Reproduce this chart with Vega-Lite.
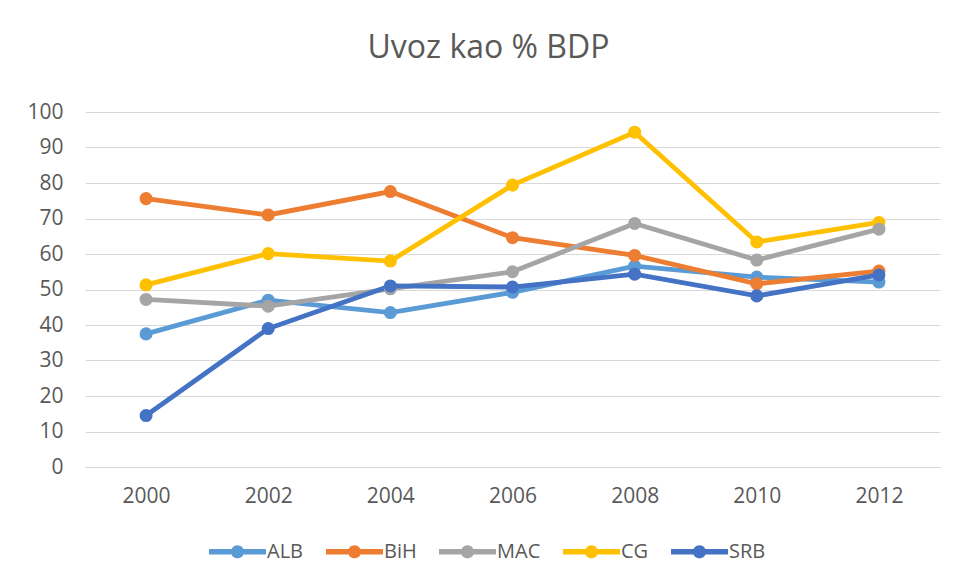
{
  "$schema": "https://vega.github.io/schema/vega-lite/v6.json",
  "autosize": "none",
  "width": 855,
  "height": 355,
  "padding": {"left": 85, "top": 112, "right": 16, "bottom": 117},
  "background": "white",
  "title": {"text": "Uvoz kao % BDP", "fontSize": 32, "font": "Open Sans", "fontWeight": "normal", "color": "#595959", "anchor": "middle", "dx": -24, "offset": 36},
  "data": {"values": [
    {"year": "2000", "country": "ALB", "value": 37.5},
    {"year": "2002", "country": "ALB", "value": 47.0},
    {"year": "2004", "country": "ALB", "value": 43.5},
    {"year": "2006", "country": "ALB", "value": 49.2},
    {"year": "2008", "country": "ALB", "value": 56.6},
    {"year": "2010", "country": "ALB", "value": 53.5},
    {"year": "2012", "country": "ALB", "value": 52.1},
    {"year": "2000", "country": "BiH", "value": 75.6},
    {"year": "2002", "country": "BiH", "value": 71.0},
    {"year": "2004", "country": "BiH", "value": 77.6},
    {"year": "2006", "country": "BiH", "value": 64.6},
    {"year": "2008", "country": "BiH", "value": 59.6},
    {"year": "2010", "country": "BiH", "value": 51.6},
    {"year": "2012", "country": "BiH", "value": 55.2},
    {"year": "2000", "country": "MAC", "value": 47.2},
    {"year": "2002", "country": "MAC", "value": 45.3},
    {"year": "2004", "country": "MAC", "value": 50.2},
    {"year": "2006", "country": "MAC", "value": 55.0},
    {"year": "2008", "country": "MAC", "value": 68.6},
    {"year": "2010", "country": "MAC", "value": 58.3},
    {"year": "2012", "country": "MAC", "value": 67.0},
    {"year": "2000", "country": "CG", "value": 51.3},
    {"year": "2002", "country": "CG", "value": 60.1},
    {"year": "2004", "country": "CG", "value": 58.0},
    {"year": "2006", "country": "CG", "value": 79.4},
    {"year": "2008", "country": "CG", "value": 94.3},
    {"year": "2010", "country": "CG", "value": 63.4},
    {"year": "2012", "country": "CG", "value": 68.9},
    {"year": "2000", "country": "SRB", "value": 14.5},
    {"year": "2002", "country": "SRB", "value": 39.0},
    {"year": "2004", "country": "SRB", "value": 51.0},
    {"year": "2006", "country": "SRB", "value": 50.7},
    {"year": "2008", "country": "SRB", "value": 54.3},
    {"year": "2010", "country": "SRB", "value": 48.2},
    {"year": "2012", "country": "SRB", "value": 54.1}
  ]},
  "mark": {"type": "line", "strokeWidth": 4.8, "point": {"filled": true, "size": 170, "opacity": 1}},
  "encoding": {
    "x": {"field": "year", "type": "ordinal", "scale": {"type": "point", "padding": 0.5},
      "axis": {"title": null, "labelAngle": 0, "labelFontSize": 21, "labelFont": "Open Sans", "labelColor": "#595959", "ticks": false, "domainColor": "#d9d9d9", "domainWidth": 1, "labelPadding": 18, "grid": false}},
    "y": {"field": "value", "type": "quantitative", "scale": {"domain": [0, 100], "nice": false},
      "axis": {"title": null, "values": [0,10,20,30,40,50,60,70,80,90,100], "labelFontSize": 21, "labelFont": "Open Sans", "labelColor": "#595959", "ticks": false, "domain": false, "gridColor": "#d9d9d9", "gridWidth": 1, "labelPadding": 22}},
    "color": {"field": "country", "type": "nominal",
      "scale": {"domain": ["ALB", "BiH", "MAC", "CG", "SRB"], "range": ["#5B9BD5", "#ED7D31", "#A5A5A5", "#FFC000", "#4472C4"]},
      "legend": {"title": null, "orient": "none", "direction": "horizontal", "legendX": 124, "legendY": 411,
        "labelFontSize": 20, "labelFont": "Open Sans", "labelColor": "#595959", "labelOffset": 1, "columnPadding": 22,
        "symbolType": "M-1,-0.095 L1,-0.095 L1,0.095 L-1,0.095 Z M-0.23,0 A0.23,0.23 0 1,1 0.23,0 A0.23,0.23 0 1,1 -0.23,0 Z",
        "symbolSize": 3249, "symbolStrokeWidth": 0,
        "encode": {"symbols": {"update": {"fill": {"scale": "color", "field": "value"}, "strokeWidth": {"value": 0}, "opacity": {"value": 1}}}}}},
    "order": {"field": "country"}
  },
  "config": {"view": {"stroke": null}}
}
